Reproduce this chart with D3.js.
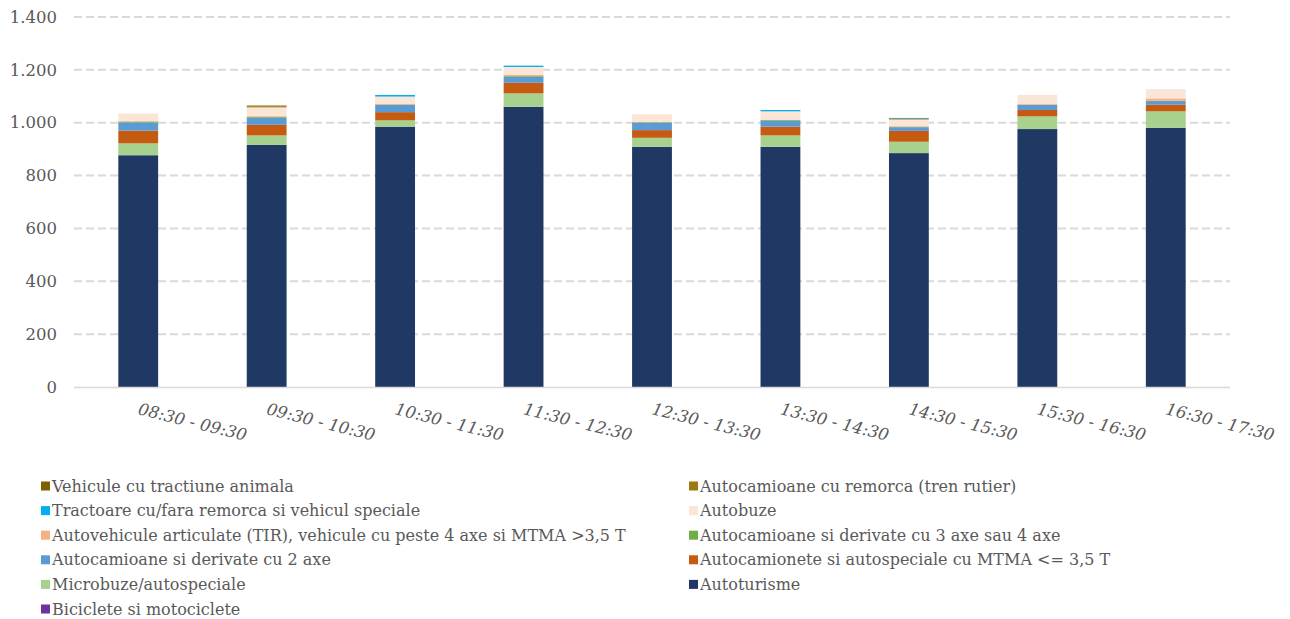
<!DOCTYPE html>
<html>
<head>
<meta charset="utf-8">
<script src="https://cdn.jsdelivr.net/npm/d3@7"></script>
<style>
  body { margin: 0; background: #fff; }
  svg { display: block; font-family: "DejaVu Serif", serif; }
  .grid line { stroke: #d9d9d9; stroke-width: 2px; stroke-dasharray: 8 4; }
  .tick text { fill: #595959; }
</style>
</head>
<body>
<div class="chart"></div>
<script>
document.addEventListener("DOMContentLoaded", function(event) {

  var categories = ["08:30 - 09:30", "09:30 - 10:30", "10:30 - 11:30", "11:30 - 12:30", "12:30 - 13:30",
                    "13:30 - 14:30", "14:30 - 15:30", "15:30 - 16:30", "16:30 - 17:30"];

  // series, stacked bottom to top
  var seriesNames = ["Biciclete si motociclete", "Autoturisme", "Microbuze/autospeciale",
                     "Autocamionete si autospeciale cu MTMA <= 3,5 T", "Autocamioane si derivate cu 2 axe",
                     "Autocamioane si derivate cu 3 axe sau 4 axe",
                     "Autovehicule articulate (TIR), vehicule cu peste 4 axe si MTMA >3,5 T",
                     "Autobuze", "Tractoare cu/fara remorca si vehicul speciale",
                     "Autocamioane cu remorca (tren rutier)", "Vehicule cu tractiune animala"];
  var seriesColors = ["#7030a0", "#203864", "#a9d18e", "#c55a11", "#5b9bd5", "#70ad47",
                      "#f4b183", "#fbe5d6", "#00b0f0", "#9c7a12", "#7f6000"];

  var biciclete     = [0, 0, 0, 0, 0, 0, 0, 0, 0];
  var autoturisme   = [877, 916, 985, 1060, 909, 909, 885, 976, 981];
  var microbuze     = [45, 36, 24, 51, 34, 43, 43, 48, 62];
  var autocamionete = [48, 40, 31, 40, 29, 33, 41, 24, 25];
  var camioane2     = [31, 27, 27, 22, 28, 22, 14, 19, 14];
  var camioane34    = [3, 3, 2, 3, 2, 3, 2, 1, 1];
  var articulate    = [3, 3, 3, 5, 2, 2, 2, 3, 9];
  var autobuze      = [28, 33, 27, 30, 28, 31, 25, 34, 35];
  var tractoare     = [0, 0, 6, 5, 0, 5, 2, 0, 0];
  var remorca       = [0, 4, 0, 0, 0, 0, 2, 0, 0];
  var animala       = [0, 3, 0, 0, 0, 0, 2, 0, 0];

  var yTicks = [0, 200, 400, 600, 800, 1000, 1200, 1400];

  var seriesValues = [biciclete, autoturisme, microbuze, autocamionete, camioane2, camioane34,
                      articulate, autobuze, tractoare, remorca, animala];

  // legend order as shown (two columns, row by row)
  var legendOrder = [10, 9, 8, 7, 6, 5, 4, 3, 2, 1, 0];

  var W = 1290, H = 619;
  var plot = {left: 74, right: 1230, top: 17, bottom: 387};

  var svg = d3.select(".chart").append("svg")
              .attr("width", W)
              .attr("height", H);

  var rows = categories.map(function(c, i) {
    var r = {cat: c};
    seriesNames.forEach(function(s, j) { r[s] = seriesValues[j][i]; });
    return r;
  });

  var stack = d3.stack().keys(seriesNames)(rows);

  var xScale = d3.scaleBand()
          .domain(categories)
          .range([plot.left, plot.right])
          .paddingInner(0.69)
          .paddingOuter(0.345);
  var yScale = d3.scaleLinear()
          .domain([0, 1400])
          .range([plot.bottom, plot.top]);
  var colorScale = d3.scaleOrdinal().domain(seriesNames).range(seriesColors);

  // gridlines
  svg.append("g")
     .attr("class", "grid")
     .selectAll("line")
     .data(yTicks.filter(function(d) { return d > 0; }))
     .enter()
     .append("line")
     .attr("x1", plot.left)
     .attr("x2", plot.right)
     .attr("y1", function(d) { return yScale(d); })
     .attr("y2", function(d) { return yScale(d); });

  // y axis labels
  var yAxis = d3.axisLeft(yScale)
          .tickValues(yTicks)
          .tickSize(0)
          .tickPadding(0)
          .tickFormat(function(d) { return d3.format(",")(d).replace(/,/g, "."); });
  svg.append("g")
     .attr("class", "y axis")
     .attr("transform", "translate(57,0)")
     .call(yAxis)
     .call(function(g) { g.select(".domain").remove(); })
     .selectAll("text")
     .attr("font-size", 16.5)
     .attr("font-family", "DejaVu Serif, serif");

  // bars
  svg.append("g")
     .selectAll("g")
     .data(stack)
     .enter()
     .append("g")
     .attr("fill", function(d) { return colorScale(d.key); })
     .selectAll("rect")
     .data(function(d) { return d; })
     .enter()
     .append("rect")
     .attr("x", function(d) { return xScale(d.data.cat); })
     .attr("width", xScale.bandwidth())
     .attr("y", function(d) { return yScale(d[1]); })
     .attr("height", function(d) { return yScale(d[0]) - yScale(d[1]); });

  // baseline
  svg.append("line")
     .attr("x1", plot.left)
     .attr("x2", plot.right)
     .attr("y1", yScale(0) + 0.5)
     .attr("y2", yScale(0) + 0.5)
     .attr("stroke", "#d9d9d9")
     .attr("stroke-width", 1.5);

  // x labels, rotated
  svg.append("g")
     .attr("class", "x labels")
     .selectAll("text")
     .data(categories)
     .enter()
     .append("text")
     .attr("transform", function(d) {
        return "translate(" + (xScale(d) + xScale.bandwidth() / 2 - 1) + "," + (yScale(0) + 27) + ") rotate(14)";
     })
     .attr("text-anchor", "start")
     .attr("font-size", 16.5)
     .attr("font-style", "italic")
     .attr("fill", "#595959")
     .text(function(d) { return d; });

  // legend
  var legend = svg.append("g")
          .attr("class", "legend")
          .selectAll("g")
          .data(legendOrder)
          .enter()
          .append("g")
          .attr("transform", function(d, i) {
            var col = i % 2, row = Math.floor(i / 2);
            return "translate(" + (col === 0 ? 41 : 689) + "," + (486 + row * 24.6) + ")";
          });
  legend.append("rect")
        .attr("x", 0)
        .attr("y", -4.5)
        .attr("width", 9)
        .attr("height", 9)
        .attr("fill", function(d) { return seriesColors[d]; });
  legend.append("text")
        .attr("x", 11)
        .attr("y", 0)
        .attr("dy", "0.35em")
        .attr("font-size", 16)
        .attr("fill", "#595959")
        .text(function(d) { return seriesNames[d]; });

});
</script>
</body>
</html>
